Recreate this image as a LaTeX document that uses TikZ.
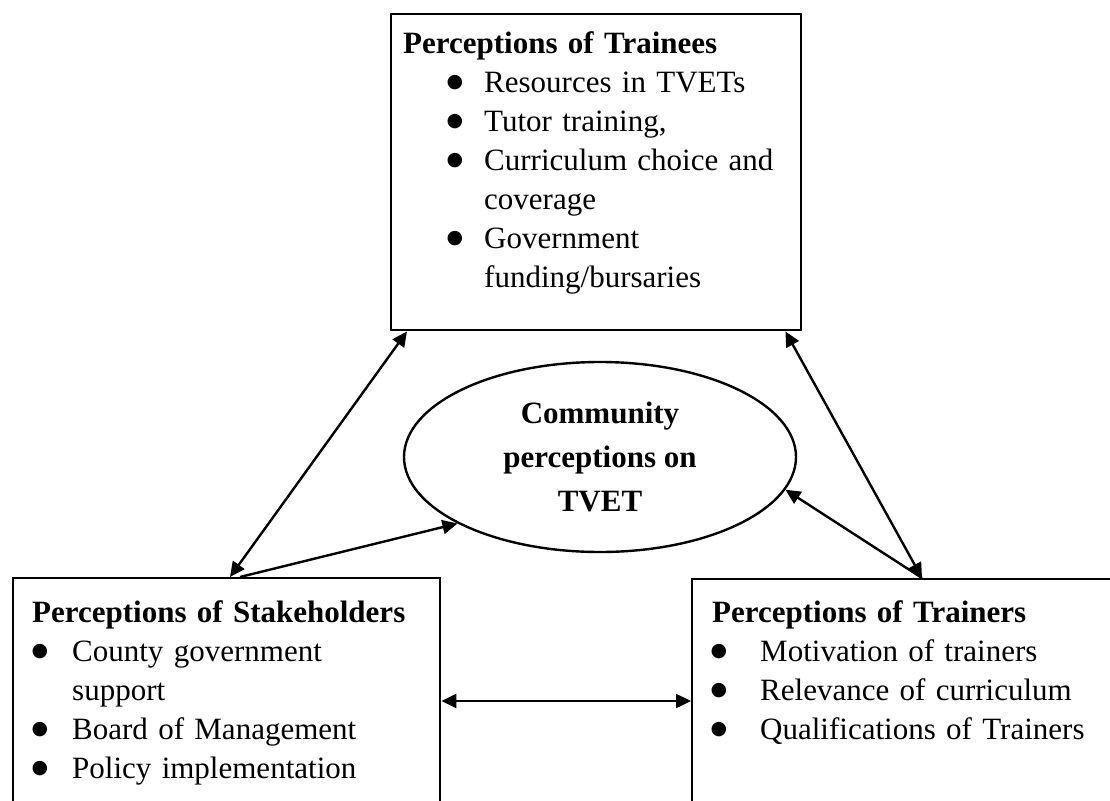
\documentclass[tikz,border=0pt]{standalone}
\usepackage{fontspec}
\setmainfont{Liberation Serif}
\newfontfamily\dotfont{DejaVu Sans}
\usetikzlibrary{shapes.geometric, arrows.meta, calc}

\newcommand{\bigdot}{\raisebox{4.5pt}{\dotfont\fontsize{19}{19}\selectfont ●}}
\newenvironment{pointlist}[2]{%
  \begin{list}{\bigdot}{%
    \setlength{\leftmargin}{#1}%
    \setlength{\labelsep}{#2}%
    \setlength{\labelwidth}{20pt}%
    \setlength{\itemsep}{0pt}%
    \setlength{\parsep}{0pt}%
    \setlength{\topsep}{0pt}%
    \setlength{\partopsep}{0pt}}}%
  {\end{list}}

\begin{document}
\begin{tikzpicture}[
    x=1pt, y=-1pt,
    box/.style={
        rectangle,
        draw=black,
        line width=2.4pt,
        anchor=north west,
        inner sep=0pt
    },
    boxtext/.style={
        anchor=north west,
        inner sep=0pt,
        align=left,
        font=\fontsize{31}{39}\selectfont
    },
    link/.style={line width=2.4pt, -{Triangle[length=15pt,width=14pt]}},
    twoway/.style={line width=2.4pt, {Triangle[length=15pt,width=14pt]}-{Triangle[length=15pt,width=14pt]}}
]
    \useasboundingbox (0,0) rectangle (1110,800);

    % Boxes
    \node[box, minimum width=410pt, minimum height=316pt] (trainees) at (390,13) {};
    \node[box, minimum width=427pt, minimum height=250pt] (stake) at (12,577) {};
    \node[box, minimum width=450pt, minimum height=250pt] (trainers) at (691,578) {};

    % Box contents
    \node[boxtext, text width=390pt] (trainees_txt) at (403,31) {%
        \textbf{Perceptions of Trainees}\par
        \begin{pointlist}{81pt}{21pt}
        \item Resources in TVETs
        \item Tutor training,
        \item Curriculum choice and\\coverage
        \item Government\\funding/bursaries
        \end{pointlist}};
    \node[boxtext, text width=400pt] (stake_txt) at (32,600) {%
        \textbf{Perceptions of Stakeholders}\par
        \begin{pointlist}{40pt}{24pt}
        \item County government\\support
        \item Board of Management
        \item Policy implementation
        \end{pointlist}};
    \node[boxtext, text width=395pt] (trainers_txt) at (712,600) {%
        \textbf{Perceptions of Trainers}\par
        \begin{pointlist}{48pt}{33pt}
        \item Motivation of trainers
        \item Relevance of curriculum
        \item Qualifications of Trainers
        \end{pointlist}};

    % Centre
    \node[ellipse, draw, line width=2.4pt, minimum width=392pt, minimum height=190pt,
          align=center, font=\fontsize{31}{44}\selectfont\bfseries] (community) at (600,457)
          {Community\\perceptions on\\TVET};

    % Links
    \coordinate (mid) at (565,701);
    \draw[twoway] ($(trainees.south west)+(17,0)$) -- ($(stake.north west)+(218,0)$);
    \draw[link] ($(stake.north west)+(228,0)$) -- (community.205);
    \draw[twoway] ($(trainees.south east)+(-17,0)$) -- ($(trainers.north west)+(231,0)$);
    \draw[link] ($(trainers.north west)+(231,0)$) -- (community.-10);
    \draw[twoway] (stake.east |- mid) -- (trainers.west |- mid);

\end{tikzpicture}
\end{document}
